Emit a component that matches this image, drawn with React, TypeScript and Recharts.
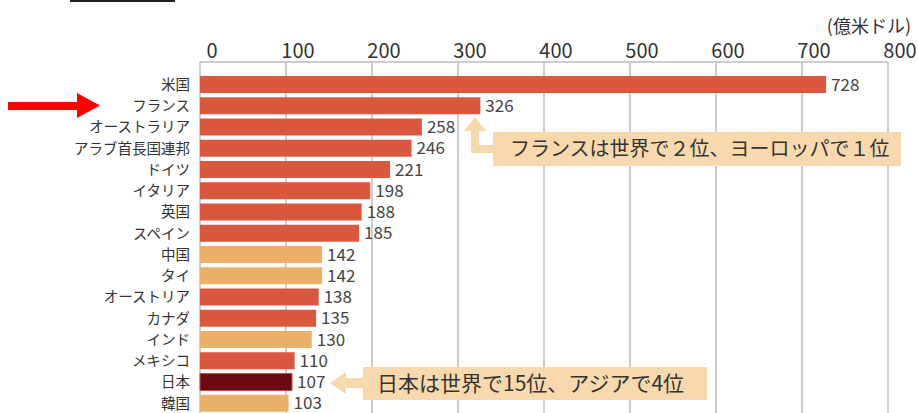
import React from "react";
import { BarChart, Bar, XAxis, YAxis, CartesianGrid, Cell, LabelList } from "recharts";

const countries = [
  "米国",
  "フランス",
  "オーストラリア",
  "アラブ首長国連邦",
  "ドイツ",
  "イタリア",
  "英国",
  "スペイン",
  "中国",
  "タイ",
  "オーストリア",
  "カナダ",
  "インド",
  "メキシコ",
  "日本",
  "韓国",
];

const receipts = [728, 326, 258, 246, 221, 198, 188, 185, 142, 142, 138, 135, 130, 110, 107, 103];

// "other" = 欧米など, "asia" = アジア, "japan" = 日本
const groups = [
  "other", "other", "other", "other", "other", "other", "other", "other",
  "asia", "asia", "other", "other", "asia", "other", "japan", "asia",
];

const xTicks = [0, 100, 200, 300, 400, 500, 600, 700, 800];

const groupColor: Record<string, string> = {
  other: "#D9583F",
  asia: "#EDB068",
  japan: "#6C0A12",
};

const data = countries.map((name, i) => ({ name, value: receipts[i], group: groups[i] }));

const FONT = '"Noto Sans CJK JP", "Noto Sans", sans-serif';
const PEACH = "#F8D9AE";

export default function App() {
  return (
    <div
      style={{
        position: "absolute",
        left: 0,
        top: 0,
        width: 918,
        height: 413,
        overflow: "hidden",
        background: "#fff",
        fontFamily: FONT,
      }}
    >
      <BarChart
        width={918}
        height={414}
        data={data}
        layout="vertical"
        margin={{ top: 32, right: 30, left: 0, bottom: 0 }}
        barSize={17}
      >
        <CartesianGrid horizontal={false} stroke="#BDBDBD" strokeWidth={1.5} />
        <XAxis
          type="number"
          orientation="top"
          domain={[0, 800]}
          ticks={xTicks}
          height={30}
          tickSize={0}
          tickMargin={4}
          tickLine={false}
          axisLine={{ stroke: "#BDBDBD", strokeWidth: 1.5 }}
          tick={{ fill: "#333", fontSize: 20, fontFamily: FONT, dx: 12 }}
          interval={0}
        />
        <YAxis
          type="category"
          dataKey="name"
          width={200}
          tickSize={0}
          tickMargin={10}
          tickLine={false}
          axisLine={false}
          padding={{ top: 12, bottom: 0 }}
          tick={{ fill: "#333", fontSize: 14.5, fontFamily: FONT }}
          interval={0}
        />
        <Bar dataKey="value" isAnimationActive={false}>
          {data.map((d, i) => (
            <Cell
              key={i}
              fill={groupColor[d.group]}
              stroke={d.group === "japan" ? "#C8503A" : "none"}
              strokeWidth={d.group === "japan" ? 1 : 0}
            />
          ))}
          <LabelList
            dataKey="value"
            position="right"
            offset={5}
            style={{ fill: "#444", fontSize: 17, fontFamily: FONT }}
          />
        </Bar>
      </BarChart>

      <svg
        width={918}
        height={413}
        style={{ position: "absolute", left: 0, top: 0, pointerEvents: "none" }}
      >
        {/* title box edge */}
        <rect x={70} y={0} width={105} height={2} fill="#222" />

        <text x={911} y={33} textAnchor="end" fontSize={18} fill="#333" fontFamily={FONT}>
          (億米ドル)
        </text>

        {/* red pointer arrow */}
        <polygon points="8,102 77,102 77,93 100,105.5 77,118 77,110 8,110" fill="#FF0000" />

        {/* France callout */}
        <polygon
          points="475,117 486,131 479,131 479,145 493,145 493,153 471,153 471,131 464,131"
          fill={PEACH}
        />
        <rect x={493} y={132} width={408} height={34} fill={PEACH} />
        <text x={510} y={156} fontSize={20} fill="#333" fontFamily={FONT}>
          フランスは世界で２位、ヨーロッパで１位
        </text>

        {/* Japan callout */}
        <polygon points="330,383 346,372 346,378 363,378 363,388 346,388 346,394" fill={PEACH} />
        <rect x={363} y={367} width={344} height={33} fill={PEACH} />
        <text x={377} y={391} fontSize={21} fill="#333" fontFamily={FONT}>
          日本は世界で15位、アジアで4位
        </text>
      </svg>
    </div>
  );
}
